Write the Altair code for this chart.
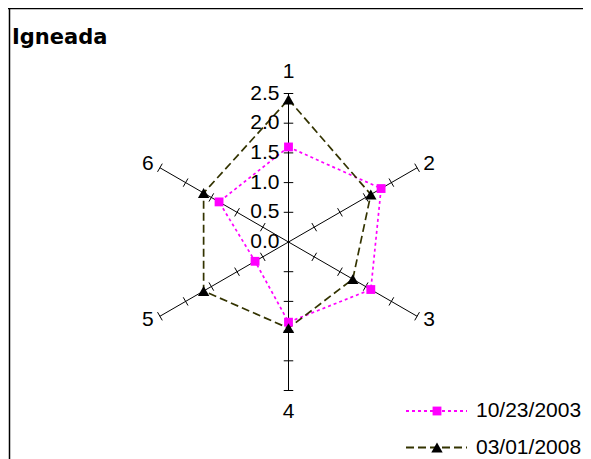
import altair as alt
import pandas as pd

# ---- data ----
categories = ["1", "2", "3", "4", "5", "6"]
series_names = ["10/23/2003", "03/01/2008"]
vals_2003 = [1.6, 1.8, 1.6, 1.35, 0.65, 1.35]
vals_2008 = [2.4, 1.6, 1.25, 1.45, 1.65, 1.65]
tick_values = [0.5, 1.0, 1.5, 2.0, 2.5]
tick_labels = ["0.0", "0.5", "1.0", "1.5", "2.0", "2.5"]
label_values = [0.0, 0.5, 1.0, 1.5, 2.0, 2.5]
r_max = 2.5
title_text = "Igneada"

series_colors = ["#ff00ff", "#333300"]
marker_colors = ["#ff00ff", "#000000"]
series_dashes = [[3, 3], [8, 4]]
series_shapes = ["square", "triangle-up"]
marker_sizes = [78, 130]

# ---- layout ----
W, H = 575, 451
PX = 59.4                      # pixels per data unit
CX, CY = 280.5, 234.0          # centre in chart pixels
xdom = [-CX / PX, (W - CX) / PX]
ydom = [-(H - CY) / PX, CY / PX]
FONT = "Liberation Sans"
FS = 21

xs = alt.Scale(domain=xdom, nice=False, zero=False)
ys = alt.Scale(domain=ydom, nice=False, zero=False)
color_scale = alt.Scale(domain=series_names, range=series_colors)
fill_scale = alt.Scale(domain=series_names, range=marker_colors)
dash_scale = alt.Scale(domain=series_names, range=series_dashes)
shape_scale = alt.Scale(domain=series_names, range=series_shapes)
size_scale = alt.Scale(domain=series_names, range=marker_sizes)

# series table (closed polygon: first point repeated)
rows = []
for name, vals in zip(series_names, [vals_2003, vals_2008]):
    for i in range(len(vals) + 1):
        k = i % len(vals)
        rows.append({"series": name, "idx": k, "order": i, "value": vals[k]})
series_df = pd.DataFrame(rows)

axes_df = pd.DataFrame({"cat": categories, "idx": list(range(len(categories)))})
ticks_df = pd.DataFrame([{"idx": i, "r": t} for i in range(len(categories)) for t in tick_values])
tlab_df = pd.DataFrame({"label": tick_labels, "r": label_values})

ang = "datum.idx * PI / 3"

base_series = alt.Chart(series_df).transform_calculate(
    ang=ang
).transform_calculate(
    px="datum.value * sin(datum.ang)", py="datum.value * cos(datum.ang)"
)

lines = base_series.mark_line(strokeWidth=1.7).encode(
    x=alt.X("px:Q", scale=xs, axis=None),
    y=alt.Y("py:Q", scale=ys, axis=None),
    stroke=alt.Stroke("series:N", scale=color_scale, legend=None),
    strokeDash=alt.StrokeDash("series:N", scale=dash_scale, legend=None),
    detail="series:N",
    order="order:Q",
)

points = base_series.transform_filter("datum.order < 6").mark_point(
    filled=True, opacity=1, strokeWidth=0
).encode(
    x=alt.X("px:Q", scale=xs, axis=None),
    y=alt.Y("py:Q", scale=ys, axis=None),
    fill=alt.Fill("series:N", scale=fill_scale, legend=None),
    shape=alt.Shape("series:N", scale=shape_scale, legend=None),
    size=alt.Size("series:N", scale=size_scale, legend=None),
)

axis_lines = alt.Chart(axes_df).transform_calculate(
    ang=ang
).transform_calculate(
    x0="0", y0="0",
    x1=f"{r_max} * sin(datum.ang)", y1=f"{r_max} * cos(datum.ang)"
).mark_rule(color="black", strokeWidth=1).encode(
    x=alt.X("x0:Q", scale=xs, axis=None), y=alt.Y("y0:Q", scale=ys, axis=None),
    x2="x1:Q", y2="y1:Q",
)

h = 0.08
tick_marks = alt.Chart(ticks_df).transform_calculate(
    ang=ang
).transform_calculate(
    ax=f"datum.r * sin(datum.ang) + {h} * cos(datum.ang)",
    ay=f"datum.r * cos(datum.ang) - {h} * sin(datum.ang)",
    bx=f"datum.r * sin(datum.ang) - {h} * cos(datum.ang)",
    by=f"datum.r * cos(datum.ang) + {h} * sin(datum.ang)",
).mark_rule(color="black", strokeWidth=1).encode(
    x=alt.X("ax:Q", scale=xs, axis=None), y=alt.Y("ay:Q", scale=ys, axis=None),
    x2="bx:Q", y2="by:Q",
)

tick_text = alt.Chart(tlab_df).transform_calculate(zx="0").mark_text(
    align="right", baseline="middle", dx=-9, font=FONT, fontSize=FS, color="black"
).encode(
    x=alt.X("zx:Q", scale=xs, axis=None), y=alt.Y("r:Q", scale=ys, axis=None), text="label:N"
)

def cat_labels(filter_expr, align, rad):
    return alt.Chart(axes_df).transform_filter(filter_expr).transform_calculate(
        ang=ang
    ).transform_calculate(
        lx=f"{rad} * sin(datum.ang)", ly=f"{rad} * cos(datum.ang)"
    ).mark_text(align=align, baseline="middle", font=FONT, fontSize=FS, color="black").encode(
        x=alt.X("lx:Q", scale=xs, axis=None), y=alt.Y("ly:Q", scale=ys, axis=None), text="cat:N"
    )

lab_c = cat_labels("datum.idx == 0 || datum.idx == 3", "center", 2.87)
lab_l = cat_labels("datum.idx == 1 || datum.idx == 2", "left", 2.62)
lab_r = cat_labels("datum.idx == 4 || datum.idx == 5", "right", 2.62)

title = alt.Chart(pd.DataFrame({"t": [title_text]})).mark_text(
    align="left", baseline="alphabetic", font="DejaVu Sans", fontWeight="bold",
    fontSize=21, color="black"
).encode(x=alt.value(4), y=alt.value(36), text="t:N")

frame_top = alt.Chart(pd.DataFrame({"a": [0]})).mark_rule(color="black", strokeWidth=1.5).encode(
    x=alt.value(0), x2=alt.value(W), y=alt.value(0.5)
)
frame_left = alt.Chart(pd.DataFrame({"a": [0]})).mark_rule(color="black", strokeWidth=1.5).encode(
    x=alt.value(1.5), y=alt.value(0), y2=alt.value(H)
)

# manual legend
legend_layers = []
leg_y = [403, 439.5]
for i, name in enumerate(series_names):
    d = pd.DataFrame({"series": [name]})
    legend_layers.append(alt.Chart(d).mark_rule(strokeWidth=2).encode(
        x=alt.value(398), x2=alt.value(459), y=alt.value(leg_y[i]),
        stroke=alt.Stroke("series:N", scale=color_scale, legend=None),
        strokeDash=alt.StrokeDash("series:N", scale=dash_scale, legend=None),
    ))
    legend_layers.append(alt.Chart(d).mark_point(filled=True, opacity=1, strokeWidth=0).encode(
        x=alt.value(429), y=alt.value(leg_y[i]),
        fill=alt.Fill("series:N", scale=fill_scale, legend=None),
        shape=alt.Shape("series:N", scale=shape_scale, legend=None),
        size=alt.Size("series:N", scale=size_scale, legend=None),
    ))
    legend_layers.append(alt.Chart(d).mark_text(
        align="left", baseline="middle", font=FONT, fontSize=FS, color="black"
    ).encode(x=alt.value(468), y=alt.value(leg_y[i]), text="series:N"))

chart = alt.layer(
    frame_top, frame_left, axis_lines, tick_marks, lines, points,
    tick_text, lab_c, lab_l, lab_r, title, *legend_layers
).properties(
    width=W, height=H, autosize=alt.AutoSizeParams(type="none"), padding=0
).configure_view(stroke=None)

chart.save("out.html", embed_options={"renderer": "svg", "actions": False})
